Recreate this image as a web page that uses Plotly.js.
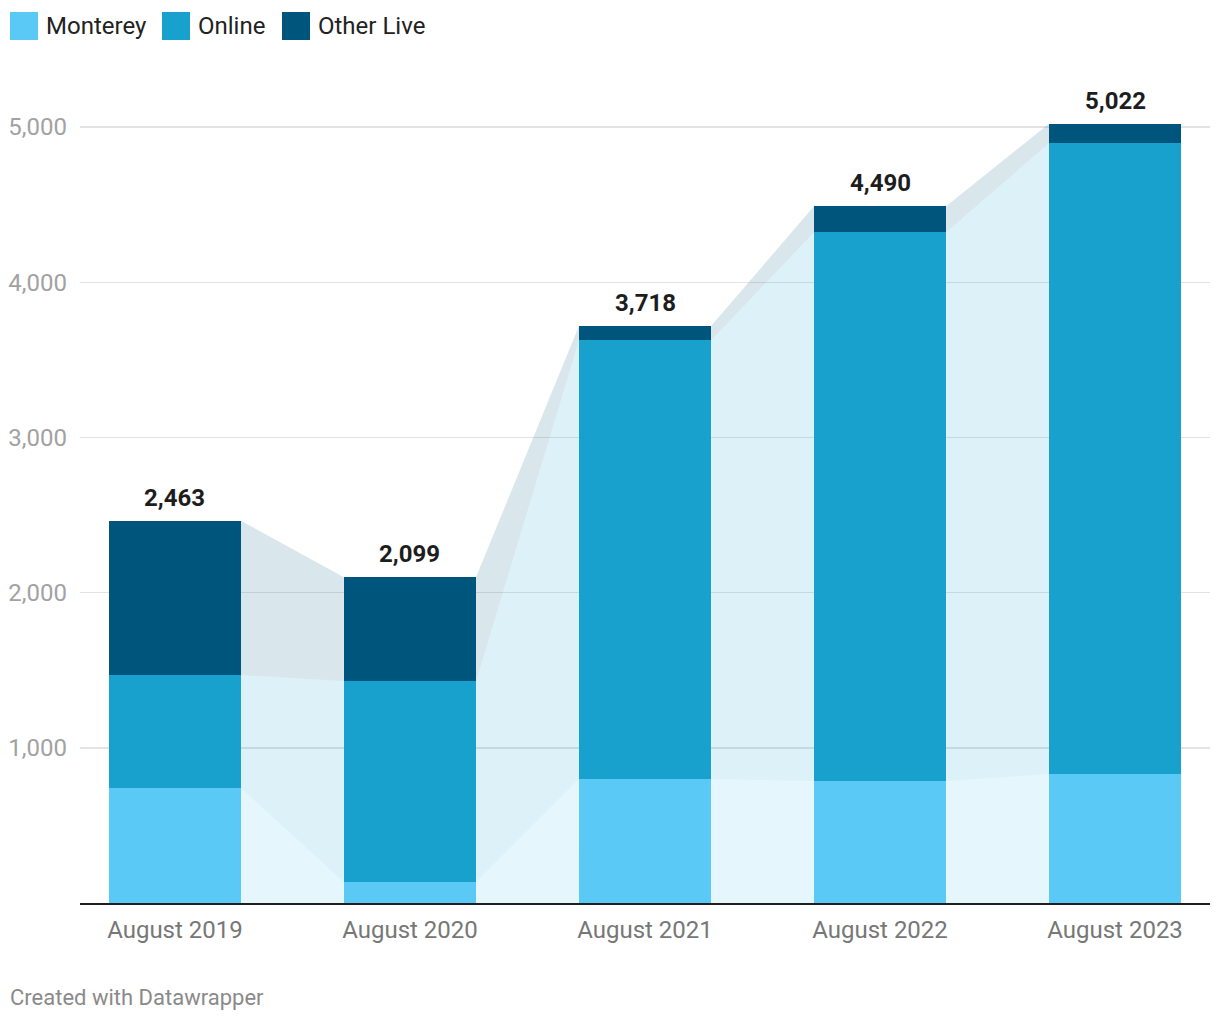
<!DOCTYPE html>
<html>
<head>
<meta charset="utf-8">
<script src="https://cdn.plot.ly/plotly-3.0.1.min.js"></script>
<style>
  html, body { margin: 0; padding: 0; background: #fff; }
  #chart { width: 1220px; height: 1020px; }
</style>
</head>
<body>
<div id="chart"></div>
<script>
const categories = ["August 2019", "August 2020", "August 2021", "August 2022", "August 2023"];
const monterey  = [741, 135, 799, 786, 831];
const online    = [728, 1295, 2828, 3537, 4066];
const otherLive = [994, 669, 91, 167, 125];
const totals    = [2463, 2099, 3718, 4490, 5022];
const seriesNames = ["Monterey", "Online", "Other Live"];
const yTicks = [1000, 2000, 3000, 4000, 5000];

const barColors  = ["#5bc9f5", "#19a1ce", "#00557d"];
const connColors = ["rgba(91,201,245,0.16)", "rgba(25,161,206,0.15)", "rgba(0,85,125,0.15)"];
const barWidth = 0.562;
const FONT = "Roboto, 'Noto Sans', sans-serif";

const series = [monterey, online, otherLive];
const xs = categories.map((c, i) => i);

// cumulative bottoms/tops per series
const bottoms = [], tops = [];
let acc = xs.map(() => 0);
series.forEach(s => {
  bottoms.push(acc.slice());
  acc = acc.map((v, i) => v + s[i]);
  tops.push(acc.slice());
});

const traces = [];
// connector areas between adjacent bars
series.forEach((s, k) => {
  for (let i = 0; i < xs.length - 1; i++) {
    const xr = xs[i] + barWidth / 2, xl = xs[i + 1] - barWidth / 2;
    traces.push({
      type: "scatter", mode: "lines",
      x: [xr, xr, xl, xl, xr],
      y: [bottoms[k][i], tops[k][i], tops[k][i + 1], bottoms[k][i + 1], bottoms[k][i]],
      fill: "toself", fillcolor: connColors[k],
      line: { width: 0, color: "rgba(0,0,0,0)" },
      hoverinfo: "skip", showlegend: false
    });
  }
});
// stacked bars
series.forEach((s, k) => {
  traces.push({
    type: "bar", x: xs, y: s, name: seriesNames[k], width: barWidth,
    marker: { color: barColors[k], line: { width: 0 } },
    showlegend: false, hovertemplate: "%{y:,}<extra>" + seriesNames[k] + "</extra>"
  });
});

const annotations = totals.map((t, i) => ({
  x: xs[i], y: t, xref: "x", yref: "y",
  text: "<b>" + t.toLocaleString("en-US") + "</b>",
  showarrow: false, yanchor: "bottom", yshift: 7,
  font: { family: FONT, size: 24, color: "#1d1d1d" }
}));

// custom legend (pixel positions converted to paper coords)
const L = 80, R = 1210, T = 65, B = 903;
const px = v => (v - L) / (R - L);
const py = v => (B - v) / (B - T);
const legendX = [10, 162, 282];
const shapes = [];
seriesNames.forEach((n, k) => {
  shapes.push({
    type: "rect", xref: "paper", yref: "paper",
    x0: px(legendX[k]), x1: px(legendX[k] + 28), y0: py(40), y1: py(12),
    fillcolor: barColors[k], line: { width: 0 }
  });
  annotations.push({
    xref: "paper", yref: "paper", x: px(legendX[k] + 34), y: py(26),
    xanchor: "left", yanchor: "middle", showarrow: false, text: n,
    font: { family: FONT, size: 24, color: "#222" }
  });
});
annotations.push({
  xref: "paper", yref: "paper", x: px(8), y: py(997),
  xanchor: "left", yanchor: "middle", showarrow: false,
  text: "Created with Datawrapper",
  font: { family: FONT, size: 22, color: "#8a8a8a" }
});

const layout = {
  width: 1220, height: 1020,
  margin: { l: L, r: 1220 - R, t: T, b: 1020 - B, pad: 0 },
  paper_bgcolor: "#fff", plot_bgcolor: "#fff",
  barmode: "stack", showlegend: false,
  font: { family: FONT },
  xaxis: {
    range: [-0.404, 4.404], tickvals: xs, ticktext: categories,
    showgrid: false, zeroline: false, showline: true, linecolor: "#1f1f1f", linewidth: 2,
    ticks: "", ticklabelstandoff: 4,
    tickfont: { family: FONT, size: 24, color: "#777" }, fixedrange: true
  },
  yaxis: {
    range: [0, 5400], tickvals: yTicks, ticktext: yTicks.map(v => v.toLocaleString("en-US")),
    showgrid: true, gridcolor: "#e3e3e3", gridwidth: 1.5, zeroline: false, showline: false,
    ticks: "", ticklabelstandoff: 12,
    tickfont: { family: FONT, size: 24, color: "#a2a2a2" }, fixedrange: true
  },
  annotations: annotations, shapes: shapes
};

Plotly.newPlot("chart", traces, layout, { displayModeBar: false, staticPlot: true });
</script>
</body>
</html>
